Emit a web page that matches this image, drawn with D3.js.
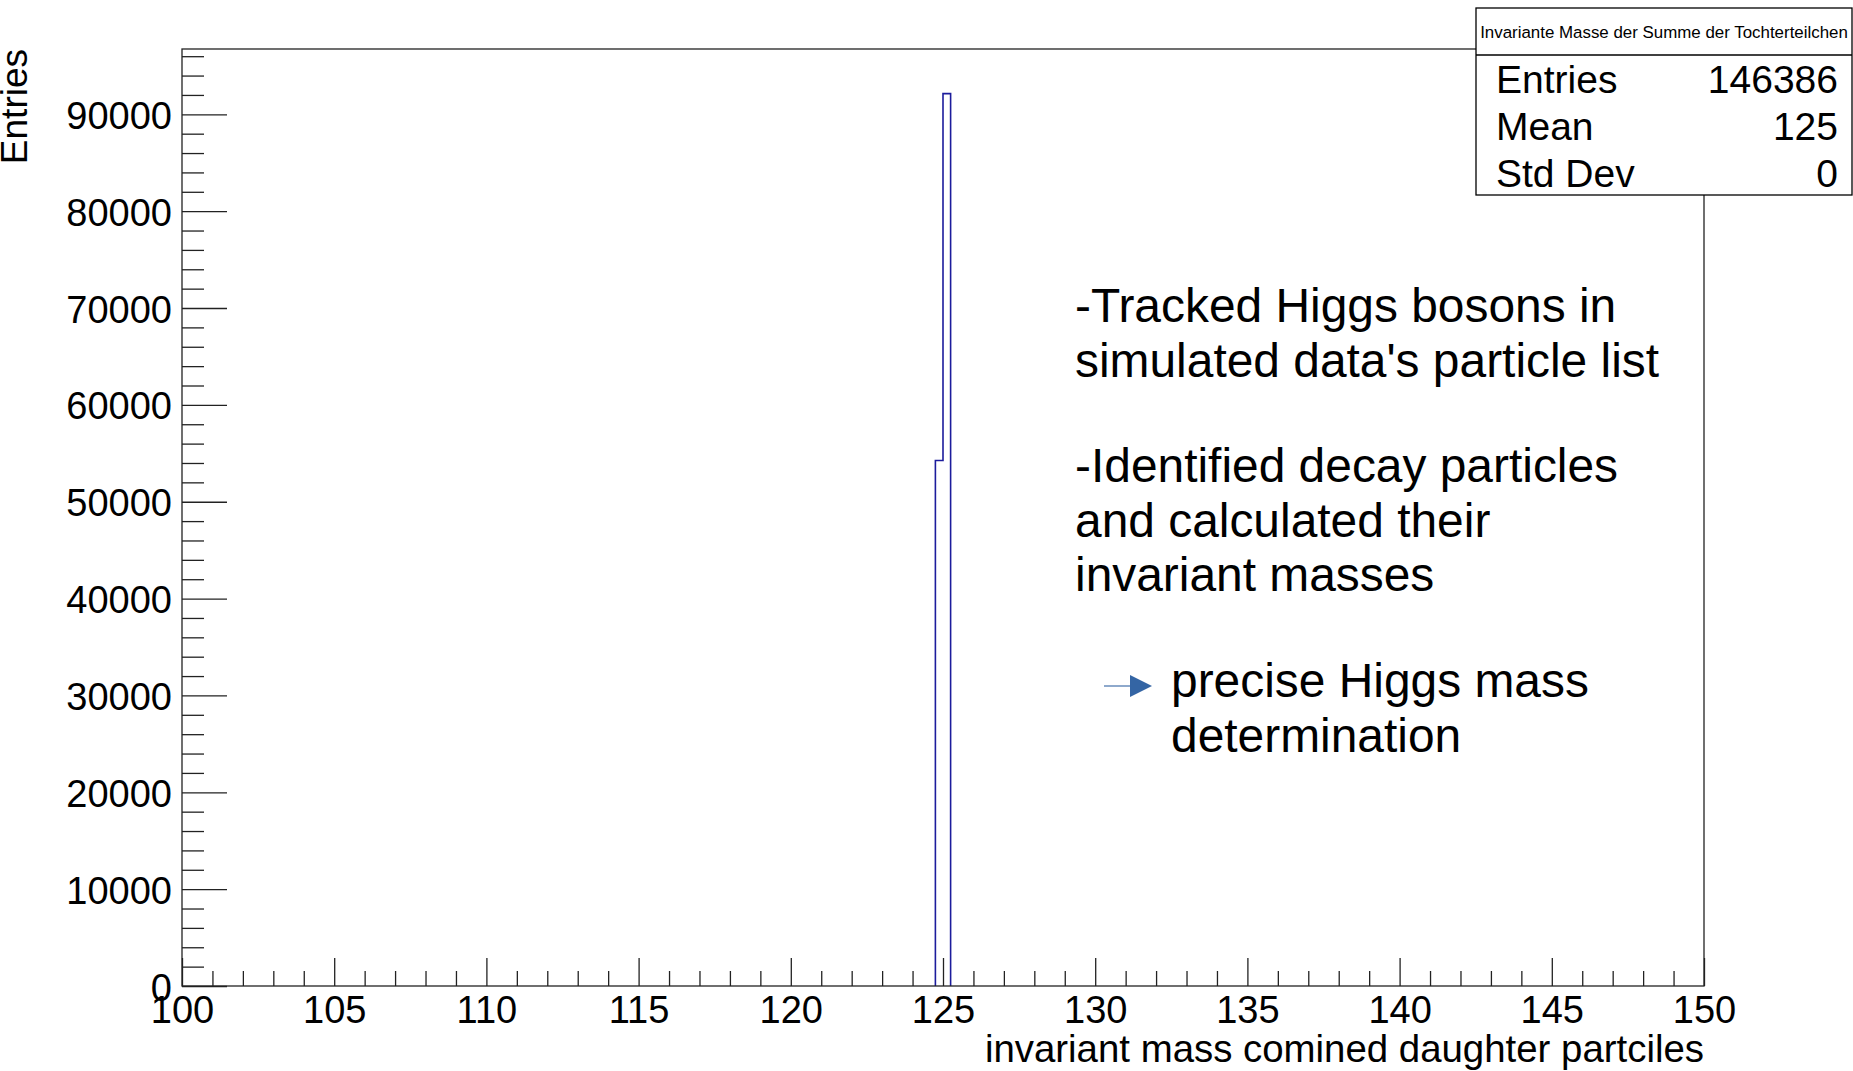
<!DOCTYPE html>
<html>
<head>
<meta charset="utf-8">
<title>Invariante Masse der Summe der Tochterteilchen</title>
<script src="https://cdn.jsdelivr.net/npm/d3@7"></script>
<style>
    html, body { margin: 0; padding: 0; background: #fff; }
    text { font-family: "Liberation Sans", Arial, Helvetica, sans-serif; }
</style>
</head>
<body>
<div id="d3-area"></div>
<script>
// histogram content (only two filled bins, 0.25 wide)
let binLow = [124.75, 125.0];
let binCounts = [54250, 92136];
let binWidth = 0.25;
let xRange = [100, 150];

// tick labels
let xTickLabels = [100, 105, 110, 115, 120, 125, 130, 135, 140, 145, 150];
let yTickLabels = [0, 10000, 20000, 30000, 40000, 50000, 60000, 70000, 80000, 90000];

// stats box
let statsTitle = "Invariante Masse der Summe der Tochterteilchen";
let statsLabels = ["Entries", "Mean", "Std Dev"];
let statsValues = ["146386", "125", "0"];

// axis titles and side notes
let xTitle = "invariant mass comined daughter partciles";
let yTitle = "Entries";
let noteLines1 = ["-Tracked Higgs bosons in", "simulated data's particle list"];
let noteLines2 = ["-Identified decay particles", "and calculated their", "invariant masses"];
let noteLines3 = ["precise Higgs mass", "determination"];

let width = 1853;
let height = 1071;
let frame = { left: 182, right: 1704, top: 49, bottom: 986 };
let histColor = "#1c1c9c";
let axisColor = "#222";

function translate (x, y) {
    return `translate(${ x }, ${ y })`;
}

function addSvg () {
    let svg = d3.select("#d3-area").append("svg");
    svg.attr("width", width);
    svg.attr("height", height);
    return svg;
}

function createXScale () {
    return d3.scaleLinear().domain(xRange).range([frame.left, frame.right]);
}

function createYScale () {
    // ROOT puts the maximum at 1.05 x the highest bin
    return d3.scaleLinear()
        .domain([0, d3.max(binCounts) * 1.05])
        .range([frame.bottom, frame.top]);
}

// outline of the histogram
function drawHist (g, xScale, yScale) {
    let pts = [[binLow[0], 0]];
    binLow.forEach((lo, i) => {
        pts.push([lo, binCounts[i]]);
        pts.push([lo + binWidth, binCounts[i]]);
    });
    pts.push([binLow[binLow.length - 1] + binWidth, 0]);
    let line = d3.line().x(d => xScale(d[0])).y(d => yScale(d[1]));
    g.append("path")
        .attr("d", line(pts))
        .attr("fill", "none")
        .attr("stroke", histColor)
        .attr("stroke-width", 1.6);
}

function styleAxis (g) {
    g.select(".domain").remove();
    g.selectAll("line").attr("stroke", axisColor).attr("stroke-width", 1.3);
    g.selectAll("text").attr("fill", "#000").attr("font-size", "38px");
}

function drawXAxis (g, scale) {
    let minor = d3.range(xRange[0], xRange[1] + 0.5, 1).filter(v => v % 5 !== 0);
    let gMinor = g.append("g").attr("transform", translate(0, frame.bottom));
    gMinor.call(d3.axisBottom(scale).tickValues(minor).tickSize(-15).tickFormat(""));
    styleAxis(gMinor);
    let gMajor = g.append("g").attr("transform", translate(0, frame.bottom));
    gMajor.call(d3.axisBottom(scale).tickValues(xTickLabels).tickSize(-28).tickPadding(10)
        .tickFormat(d3.format("d")));
    styleAxis(gMajor);
}

function drawYAxis (g, scale) {
    let top = scale.domain()[1];
    let minor = d3.range(0, top, 2000).filter(v => v % 10000 !== 0);
    let gMinor = g.append("g").attr("transform", translate(frame.left, 0));
    gMinor.call(d3.axisLeft(scale).tickValues(minor).tickSize(-22).tickFormat(""));
    styleAxis(gMinor);
    let gMajor = g.append("g").attr("transform", translate(frame.left, 0));
    gMajor.call(d3.axisLeft(scale).tickValues(yTickLabels).tickSize(-45).tickPadding(10)
        .tickFormat(d3.format("d")));
    styleAxis(gMajor);
    gMajor.selectAll("text").attr("dy", "0.37em");
}

function drawFrame (g) {
    g.append("rect")
        .attr("x", frame.left).attr("y", frame.top)
        .attr("width", frame.right - frame.left)
        .attr("height", frame.bottom - frame.top)
        .attr("fill", "none")
        .attr("stroke", axisColor)
        .attr("stroke-width", 1.3);
}

function drawTitles (g) {
    g.append("text")
        .attr("x", frame.right).attr("y", 1062)
        .attr("text-anchor", "end")
        .attr("font-size", "38.4px")
        .text(xTitle);
    g.append("text")
        .attr("transform", translate(27, frame.top) + " rotate(-90)")
        .attr("text-anchor", "end")
        .attr("font-size", "37px")
        .text(yTitle);
}

function drawStats (g) {
    let box = { x: 1476, y: 8, w: width - 1476 - 1, h: 187, sep: 55 };
    g.append("rect")
        .attr("x", box.x).attr("y", box.y)
        .attr("width", box.w).attr("height", box.h)
        .attr("fill", "#fff")
        .attr("stroke", "#000")
        .attr("stroke-width", 1.3);
    g.append("line")
        .attr("x1", box.x).attr("x2", box.x + box.w)
        .attr("y1", box.sep).attr("y2", box.sep)
        .attr("stroke", "#000").attr("stroke-width", 1.3);
    g.append("text")
        .attr("x", box.x + box.w / 2).attr("y", 38)
        .attr("text-anchor", "middle")
        .attr("font-size", "16.9px")
        .text(statsTitle);
    statsLabels.forEach((lab, i) => {
        let y = 93 + i * 47;
        g.append("text").attr("x", 1496).attr("y", y)
            .attr("font-size", "39px").text(lab);
        g.append("text").attr("x", 1838).attr("y", y)
            .attr("text-anchor", "end")
            .attr("font-size", "39px").text(statsValues[i]);
    });
}

function drawNotes (g) {
    let lineGap = 54.5;
    function block (lines, x, y0) {
        lines.forEach((t, i) => {
            g.append("text").attr("x", x).attr("y", y0 + i * lineGap)
                .attr("font-size", "47.9px").attr("fill", "#000").text(t);
        });
    }
    block(noteLines1, 1075, 322);
    block(noteLines2, 1075, 482);
    block(noteLines3, 1171, 697);

    // little blue arrow
    g.append("line")
        .attr("x1", 1104).attr("x2", 1132)
        .attr("y1", 686).attr("y2", 686)
        .attr("stroke", "#3465a4").attr("stroke-opacity", 0.7)
        .attr("stroke-width", 1.6);
    g.append("path")
        .attr("d", "M1130,675 L1152,686 L1130,697 Z")
        .attr("fill", "#3465a4");
}

let svg = addSvg();
let xScale = createXScale();
let yScale = createYScale();
let gAxes = svg.append("g");
let gHist = svg.append("g");
let gFrame = svg.append("g");
let gText = svg.append("g");
let gStats = svg.append("g");

drawXAxis(gAxes, xScale);
drawYAxis(gAxes, yScale);
drawHist(gHist, xScale, yScale);
drawFrame(gFrame);
drawTitles(gText);
drawNotes(gText);
drawStats(gStats);
</script>
</body>
</html>
